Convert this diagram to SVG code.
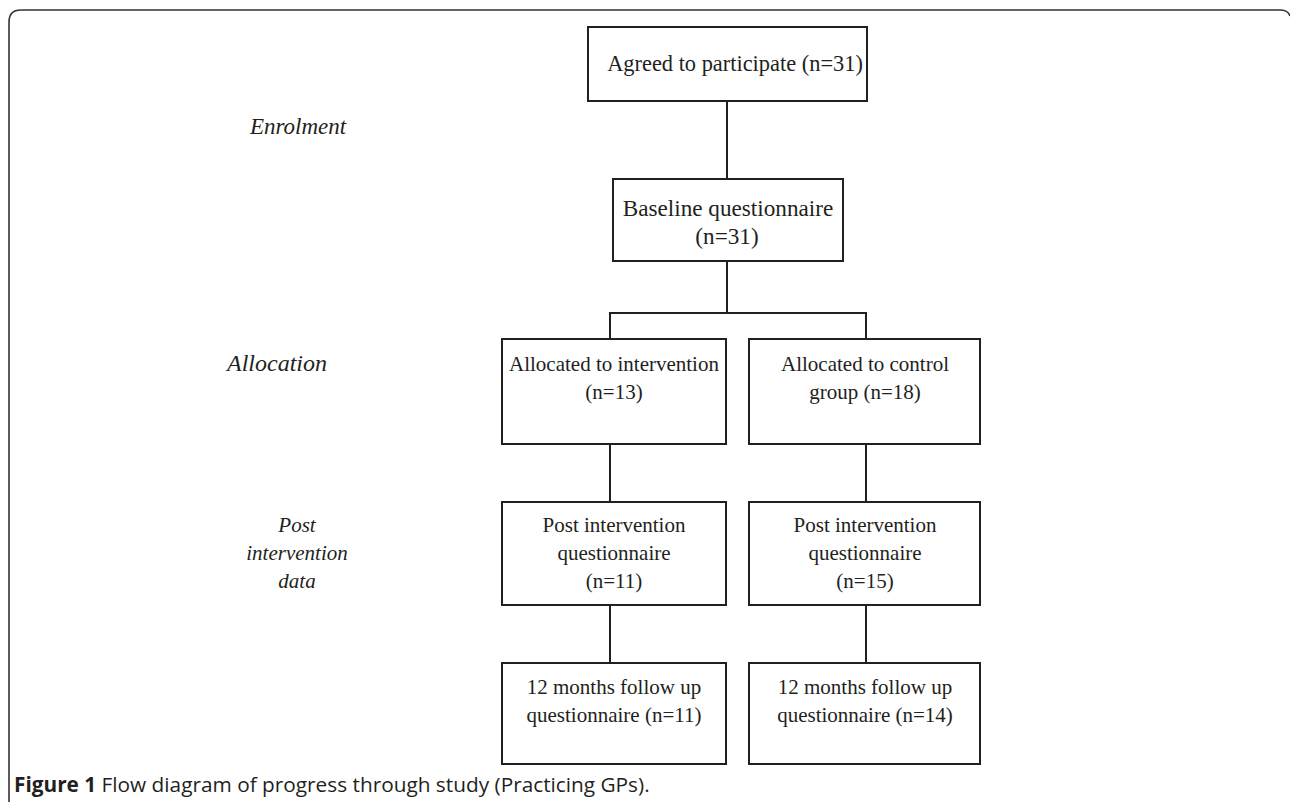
<svg xmlns="http://www.w3.org/2000/svg" width="1290" height="802" viewBox="0 0 1290 802">
<style>
.box{fill:#fff;stroke:#231f20;stroke-width:2}
.ln{stroke:#231f20;stroke-width:2;fill:none}
.t{font-family:"Liberation Serif",serif;font-size:21px;fill:#231f20;text-anchor:middle}
.it{font-family:"Liberation Serif",serif;font-size:21px;font-style:italic;fill:#231f20;text-anchor:middle}
.cap{font-family:"Open Sans","Liberation Sans",sans-serif;font-size:20.8px;fill:#231f20}
</style>
<rect width="1290" height="802" fill="#fff"/>
<path d="M9,802 L9,22 Q9,10 21,10 L1280,10 Q1288,10 1290,16" fill="none" stroke="#333" stroke-width="1.6"/>
<g id="connectors">
<line class="ln" x1="727" y1="101" x2="727" y2="179"/>
<line class="ln" x1="727" y1="261" x2="727" y2="313"/>
<polyline class="ln" points="610,339 610,313 866,313 866,339"/>
<line class="ln" x1="610" y1="444" x2="610" y2="502"/>
<line class="ln" x1="866" y1="444" x2="866" y2="502"/>
<line class="ln" x1="610" y1="605" x2="610" y2="663"/>
<line class="ln" x1="866" y1="605" x2="866" y2="663"/>
</g>
<g id="stage-labels">
<text class="it" x="298" y="134" style="font-size:23px">Enrolment</text>
<text class="it" x="277" y="371" style="font-size:24px">Allocation</text>
<text class="it" x="297" y="532">Post</text>
<text class="it" x="297" y="560">intervention</text>
<text class="it" x="297" y="588">data</text>
</g>
<g id="agreed">
<rect class="box" x="588" y="27" width="279" height="74"/>
<text class="t" x="735" y="71" style="font-size:22.4px">Agreed to participate (n=31)</text>
</g>
<g id="baseline">
<rect class="box" x="613" y="179" width="230" height="82"/>
<text class="t" x="728" y="216" style="font-size:23.2px">Baseline questionnaire</text>
<text class="t" x="727" y="244" style="font-size:23.2px">(n=31)</text>
</g>
<g id="alloc-int">
<rect class="box" x="502" y="339" width="224" height="105"/>
<text class="t" x="614" y="371">Allocated to intervention</text>
<text class="t" x="614" y="399">(n=13)</text>
</g>
<g id="alloc-ctl">
<rect class="box" x="749" y="339" width="231" height="105"/>
<text class="t" x="865" y="371">Allocated to control</text>
<text class="t" x="865" y="399">group (n=18)</text>
</g>
<g id="post-int">
<rect class="box" x="502" y="502" width="224" height="103"/>
<text class="t" x="614" y="532">Post intervention</text>
<text class="t" x="614" y="560">questionnaire</text>
<text class="t" x="614" y="588">(n=11)</text>
</g>
<g id="post-ctl">
<rect class="box" x="749" y="502" width="231" height="103"/>
<text class="t" x="865" y="532">Post intervention</text>
<text class="t" x="865" y="560">questionnaire</text>
<text class="t" x="865" y="588">(n=15)</text>
</g>
<g id="fu-int">
<rect class="box" x="502" y="663" width="224" height="101"/>
<text class="t" x="614" y="694">12 months follow up</text>
<text class="t" x="614" y="722">questionnaire (n=11)</text>
</g>
<g id="fu-ctl">
<rect class="box" x="749" y="663" width="231" height="101"/>
<text class="t" x="865" y="694">12 months follow up</text>
<text class="t" x="865" y="722">questionnaire (n=14)</text>
</g>
<text class="cap" x="14" y="792"><tspan font-weight="bold">Figure 1</tspan> Flow diagram of progress through study (Practicing GPs).</text>
</svg>
